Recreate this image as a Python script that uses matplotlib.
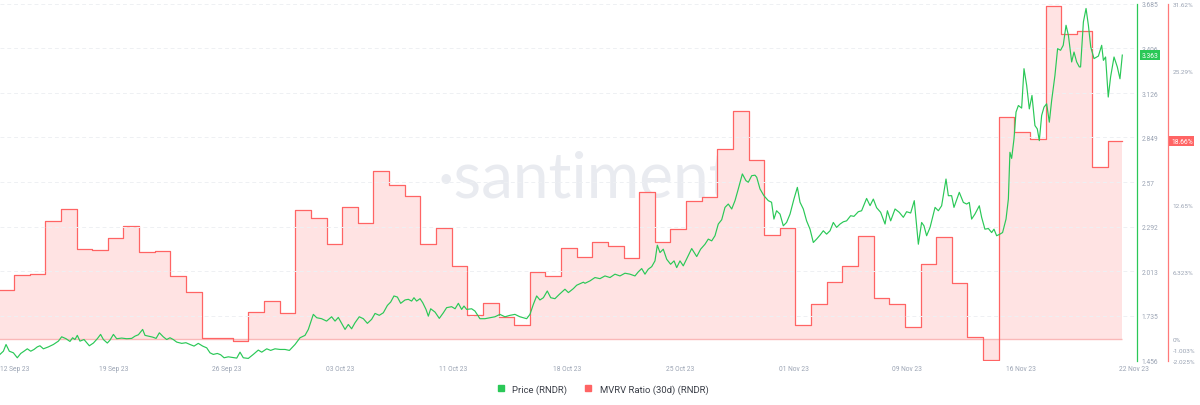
import numpy as np
import matplotlib.pyplot as plt
from matplotlib.lines import Line2D
from matplotlib.transforms import blended_transform_factory

# x is measured in days from 13 Sep 2023 00:00
# MVRV (30d) is daily, one value per day starting 12 Sep 2023
mvrv_days = list(range(-1, 71))
mvrv_vals = [4.6, 6.0, 6.1, 11.1, 12.25, 8.47, 8.38, 9.5, 10.64, 8.2,
             8.25, 5.92, 4.4, 0.1, 0.06, -0.2, 2.5, 3.55, 2.42, 12.2,
             11.4, 8.94, 12.47, 10.9, 15.87, 14.55, 13.5, 8.94, 10.5, 6.86,
             2.23, 3.36, 2.04, 1.32, 6.3, 5.9, 8.6, 7.7, 9.13, 8.75,
             7.6, 13.85, 9.13, 10.36, 13.0, 13.4, 17.9, 21.5, 16.9, 9.8,
             10.5, 1.32, 3.27, 5.35, 6.86, 9.7, 3.9, 3.27, 1.1, 7.1,
             9.6, 5.25, 0.15, -2.02, 20.9, 19.5, 18.86, 31.4, 28.7, 29.07,
             16.2, 18.66]

price_t = [
    -0.90, -0.68, -0.51, -0.30, -0.04, 0.21, 0.43, 0.64, 0.85, 1.07, 1.28, 1.49, 1.66, 1.88,
    2.20, 2.52, 2.84, 3.05, 3.33, 3.58, 3.75, 3.90, 4.05, 4.22, 4.48, 4.82, 5.08, 5.33, 5.54,
    5.72, 5.97, 6.14, 6.36, 6.57, 6.89, 7.21, 7.53, 7.74, 7.96, 8.06, 8.23, 8.38, 8.59, 8.87,
    9.09, 9.30, 9.55, 9.77, 9.98, 10.19, 10.41, 10.73, 11.00, 11.26, 11.52, 11.79, 12.07,
    12.33, 12.54, 12.75, 13.01, 13.22, 13.44, 13.71, 13.99, 14.25, 14.46, 14.67, 14.99,
    15.31, 15.63, 15.85, 16.17, 16.42, 16.70, 17.02, 17.34, 17.62,
    17.98, 18.30, 18.62, 18.83, 19.15, 19.37, 19.68, 20.00, 20.32, 20.54, 20.75, 20.96,
    21.18, 21.39, 21.60, 21.82, 22.09, 22.35, 22.61, 22.88, 23.10, 23.37, 23.63, 23.89,
    24.10, 24.31, 24.53, 24.74, 25.02, 25.23, 25.44, 25.59, 25.76, 25.98, 26.15, 26.36,
    26.51, 26.66, 26.94, 27.21, 27.47, 27.68, 28.00, 28.22, 28.43, 28.64, 28.79, 28.96,
    29.28, 29.49, 29.81, 30.13, 30.45, 30.77, 31.09, 31.41, 31.73, 32.05, 32.37, 32.80,
    33.01, 33.23, 33.44, 33.65, 33.87, 34.12, 34.34, 34.61, 34.89, 35.25, 35.47, 35.79,
    36.00, 36.21, 36.43,
    36.53, 36.85, 37.17, 37.49, 37.81, 38.13, 38.45, 38.77, 39.09, 39.41, 39.73, 39.94,
    40.16, 40.37, 40.58, 40.80, 41.01, 41.16, 41.33, 41.54, 41.76, 42.01, 42.23, 42.40,
    42.61, 42.82, 43.08, 43.36, 43.68, 43.93, 44.21, 44.42, 44.64, 44.85, 45.06, 45.28,
    45.49, 45.70, 45.92, 46.13, 46.34, 46.60, 46.83, 46.98, 47.20, 47.41, 47.52, 47.73,
    47.98, 48.26, 48.47, 48.62, 48.79, 49.01, 49.22, 49.43, 49.65, 49.90, 50.12, 50.29,
    50.50, 50.71, 50.93, 51.14, 51.35, 51.57, 51.78, 51.99, 52.21, 52.42, 52.63, 52.85,
    53.06, 53.27, 53.53, 53.74, 54.02, 54.23, 54.55, 54.77, 54.98, 55.19,
    55.45, 55.73, 55.88, 56.09, 56.37, 56.64, 56.90, 57.11, 57.37, 57.60, 57.86, 58.07,
    58.22, 58.39, 58.61, 58.93, 59.14, 59.35, 59.63, 59.78, 59.99, 60.14, 60.48, 60.74,
    60.95, 61.12, 61.27, 61.48, 61.76, 61.91, 62.12, 62.34, 62.55, 62.70, 62.87, 63.08,
    63.25, 63.47, 63.62, 63.72, 63.83, 63.98, 64.11, 64.26, 64.47, 64.62, 64.79, 64.96,
    65.13, 65.32, 65.47, 65.60, 65.75, 65.90, 66.07, 66.24, 66.39, 66.60, 66.77, 66.96,
    67.13, 67.31, 67.46, 67.67, 67.82, 67.99, 68.16, 68.24, 68.42, 68.59, 68.74, 68.89,
    69.10, 69.38, 69.59, 69.70, 69.84, 70.01, 70.16, 70.38, 70.59, 70.76, 70.91]

price_vals = [
    1.494, 1.514, 1.556, 1.514, 1.504, 1.473, 1.500, 1.514, 1.529, 1.514, 1.525, 1.541, 1.548, 1.529,
    1.541, 1.556, 1.577, 1.604, 1.592, 1.575, 1.598, 1.587, 1.613, 1.577, 1.587, 1.548, 1.565, 1.592, 1.619,
    1.587, 1.565, 1.583, 1.619, 1.592, 1.596, 1.592, 1.594, 1.608, 1.617, 1.629, 1.650, 1.613, 1.608, 1.602,
    1.594, 1.629, 1.604, 1.587, 1.598, 1.587, 1.571, 1.563, 1.567, 1.556, 1.546, 1.563, 1.546,
    1.535, 1.504, 1.494, 1.500, 1.492, 1.473, 1.479, 1.475, 1.471, 1.508, 1.473, 1.469,
    1.494, 1.521, 1.508, 1.529, 1.519, 1.529, 1.525, 1.525, 1.519,
    1.556, 1.598, 1.613, 1.650, 1.744, 1.723, 1.717, 1.702, 1.729, 1.702, 1.725, 1.688,
    1.650, 1.681, 1.654, 1.692, 1.729, 1.717, 1.688, 1.713, 1.750, 1.738, 1.754, 1.800,
    1.821, 1.859, 1.852, 1.813, 1.834, 1.838, 1.827, 1.848, 1.827, 1.842, 1.817, 1.775,
    1.733, 1.779, 1.758, 1.719, 1.754, 1.786, 1.792, 1.779, 1.813, 1.775, 1.796, 1.775,
    1.779, 1.765, 1.717, 1.717, 1.723, 1.729, 1.744, 1.729, 1.738, 1.744, 1.729, 1.717,
    1.744, 1.807, 1.859, 1.834, 1.848, 1.890, 1.848, 1.842, 1.869, 1.901, 1.880, 1.905,
    1.926, 1.935, 1.945,
    1.938, 1.953, 1.974, 1.967, 1.984, 1.974, 1.995, 1.984, 2.001, 1.995, 1.984, 2.009,
    2.030, 1.995, 2.026, 2.042, 2.078, 2.176, 2.130, 2.151, 2.088, 2.057, 2.078, 2.036,
    2.078, 2.047, 2.099, 2.155, 2.105, 2.151, 2.182, 2.214, 2.203, 2.235, 2.308, 2.335,
    2.412, 2.433, 2.402, 2.454, 2.527, 2.621, 2.579, 2.569, 2.610, 2.613, 2.600, 2.527,
    2.485, 2.454, 2.444, 2.339, 2.391, 2.370, 2.297, 2.318, 2.370, 2.464, 2.537, 2.444,
    2.402, 2.328, 2.276, 2.193, 2.214, 2.239, 2.266, 2.245, 2.266, 2.318, 2.287, 2.308,
    2.322, 2.328, 2.360, 2.356, 2.385, 2.391, 2.468, 2.423, 2.464, 2.410,
    2.381, 2.308, 2.391, 2.328, 2.402, 2.381, 2.350, 2.385, 2.377, 2.454, 2.182, 2.318,
    2.297, 2.235, 2.287, 2.412, 2.391, 2.422, 2.589, 2.485, 2.485, 2.412, 2.506, 2.443,
    2.433, 2.443, 2.339, 2.370, 2.422, 2.350, 2.276, 2.280, 2.255, 2.276, 2.235, 2.245,
    2.255, 2.339, 2.464, 2.756, 2.718, 2.840, 3.007, 3.048, 3.032, 3.278, 3.174, 3.027,
    3.111, 2.923, 2.902, 2.829, 2.986, 3.038, 3.059, 2.944, 3.080, 3.236, 3.403, 3.393,
    3.424, 3.549, 3.487, 3.320, 3.382, 3.320, 3.289, 3.289, 3.570, 3.654, 3.549, 3.414,
    3.341, 3.357, 3.424, 3.330, 3.351, 3.101, 3.226, 3.351, 3.289, 3.215, 3.363]

price_ticks = [1.456, 1.735, 2.013, 2.292, 2.57, 2.849, 3.126, 3.406, 3.685]
mvrv_ticks = [-2.025, -1.003, 0, 6.323, 12.65, 25.29, 31.62]
date_labels = ['12 Sep 23', '19 Sep 23', '26 Sep 23', '03 Oct 23', '11 Oct 23', '18 Oct 23',
               '25 Oct 23', '01 Nov 23', '09 Nov 23', '16 Nov 23', '22 Nov 23']

GREEN = '#2ac857'
RED = '#ff6464'
FILL = '#ffe3e3'
TICK = '#9aa3b3'
plt.rcParams['font.family'] = ['Roboto', 'DejaVu Sans']

fig = plt.figure(figsize=(12, 4.06), dpi=100)
ax_m = fig.add_axes([0, 0.1096, 0.9475, 0.8793])
ax_p = ax_m.twinx()

x_left, x_right, x_last_tick = -0.896, 71.85, 71.66

# MVRV step area
xs = mvrv_days + [price_t[-1]]
ys = mvrv_vals + [mvrv_vals[-1]]
ax_m.fill_between(xs, ys, 0, step='post', color=FILL, lw=0, zorder=1)
ax_m.hlines(0, xs[0], xs[-1], color='#fab8b8', lw=1.0, zorder=2)
ax_m.step(xs, ys, where='post', color=RED, lw=0.9, zorder=3)
ax_m.set_ylim(mvrv_ticks[0], mvrv_ticks[-1])
ax_m.set_xlim(x_left, x_right)

# watermark
ax_m.text(0.514, 0.458, '\u00b7santiment', transform=ax_m.transAxes, ha='center',
          va='baseline', fontsize=46, color='#e9ebf0', family='Lato', zorder=0)

# price line
ax_p.plot(price_t, price_vals, color=GREEN, lw=0.85, zorder=4)
ax_p.set_ylim(price_ticks[0], price_ticks[-1])

# axes styling
for s in ['top', 'left', 'bottom']:
    ax_m.spines[s].set_visible(False)
    ax_p.spines[s].set_visible(False)
ax_p.spines['right'].set_color(GREEN)
ax_p.spines['right'].set_linewidth(0.9)
ax_m.spines['right'].set_color('#ff7a7a')
ax_m.spines['right'].set_linewidth(0.9)
ax_m.spines['right'].set_position(('outward', 22.3))
ax_m.yaxis.tick_right()

ax_p.set_yticks(price_ticks)
ax_p.set_yticklabels(['%g' % v for v in price_ticks])
ax_p.tick_params(axis='y', length=0, pad=3.5, labelsize=4.8, labelcolor=TICK)
ax_m.set_yticks(mvrv_ticks)
ax_m.set_yticklabels(['%g%%' % v for v in mvrv_ticks])
ax_m.tick_params(axis='y', length=0, pad=3.5, labelsize=4.6, labelcolor=TICK)

tick_pos = np.linspace(x_left, x_last_tick, len(date_labels))
ax_m.set_xticks(tick_pos)
ax_m.set_xticklabels(date_labels)
ax_m.tick_params(axis='x', length=0, pad=3, labelsize=4.8, labelcolor=TICK)
ax_m.get_xticklabels()[0].set_horizontalalignment('left')

ax_p.grid(True, axis='both', color='#eef0f3', lw=0.7, ls=(0, (4, 3)), zorder=0)
ax_p.set_axisbelow(True)

# current value badges
tp = blended_transform_factory(ax_p.transAxes, ax_p.transData)
ax_p.text(1.004, price_vals[-1], '%.3f' % price_vals[-1], transform=tp, ha='left',
          va='center', fontsize=4.8, color='white',
          bbox=dict(boxstyle='square,pad=0.25', fc=GREEN, ec='none'))
tm = blended_transform_factory(ax_m.transAxes, ax_m.transData)
ax_m.text(1.030, mvrv_vals[-1], '%.2f%%' % mvrv_vals[-1], transform=tm, ha='left',
          va='center', fontsize=4.8, color='white',
          bbox=dict(boxstyle='square,pad=0.25', fc=RED, ec='none'))

handles = [Line2D([], [], marker='s', ls='none', color=GREEN, markersize=5),
           Line2D([], [], marker='s', ls='none', color=RED, markersize=5)]
fig.legend(handles, ['Price (RNDR)', 'MVRV Ratio (30d) (RNDR)'], loc='center',
           bbox_to_anchor=(0.5, 0.04), ncol=2, frameon=False, fontsize=6.8,
           handletextpad=0.2, columnspacing=1.2, labelcolor='#3b3f48')

fig.savefig('out.png', dpi=100)
